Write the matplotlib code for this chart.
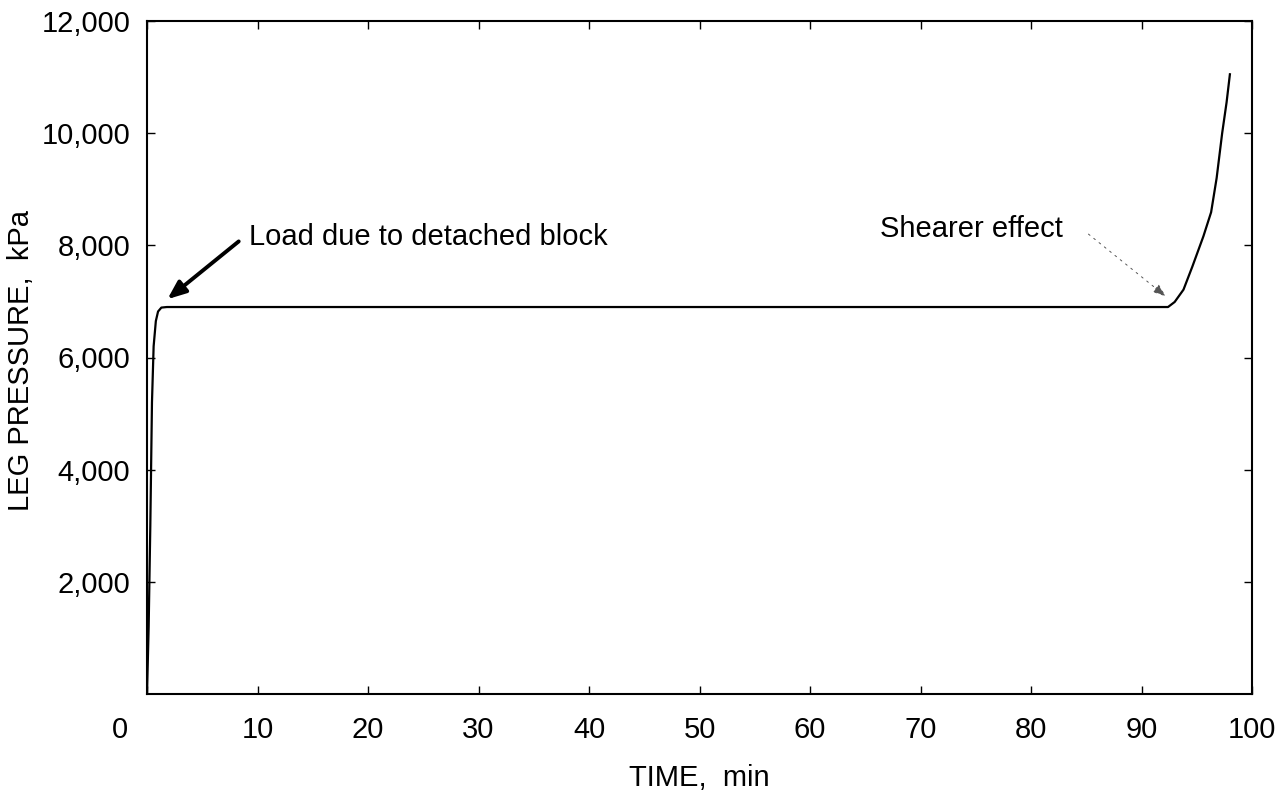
import numpy as np
import matplotlib
matplotlib.use("Agg")
import matplotlib.pyplot as plt
import matplotlib.transforms as mtransforms

plt.rcParams['font.family'] = ['Liberation Sans', 'DejaVu Sans']

# Leg pressure record
time_min = [0.0, 0.15, 0.3, 0.45, 0.6, 0.8, 1.0, 1.3, 1.8, 10, 30, 50, 70, 90, 92.4,
            93.0, 93.8, 94.6, 95.6, 96.3, 96.8, 97.3, 97.7, 98.0]
pressure_kpa = [0, 1200, 3000, 5200, 6200, 6650, 6820, 6890, 6900, 6900, 6900, 6900, 6900, 6900, 6900,
                6990, 7210, 7620, 8160, 8590, 9200, 10000, 10550, 11050]

x_ticks = [0, 10, 20, 30, 40, 50, 60, 70, 80, 90, 100]
y_ticks = [2000, 4000, 6000, 8000, 10000, 12000]

fig = plt.figure(figsize=(12.86, 7.91), dpi=100)
ax = fig.add_axes([147 / 1286, 1 - 694 / 791, (1252 - 147) / 1286, (694 - 21) / 791])

ax.plot(time_min, pressure_kpa, color='black', lw=1.6)

ax.set_xlim(0, 100)
ax.set_ylim(0, 12000)
ax.set_xticks(x_ticks)
ax.set_yticks(y_ticks)
ax.set_yticklabels(["{:,}".format(v) for v in y_ticks])
ax.tick_params(direction='in', length=6, width=1, top=True, right=True, labelsize=21)
ax.tick_params(axis='x', pad=16)
ax.tick_params(axis='y', pad=12)
for s in ax.spines.values():
    s.set_linewidth(1.5)

# the "0" on the time axis sits out at the corner
lbl0 = ax.get_xticklabels()[0]
lbl0.set_transform(lbl0.get_transform() + mtransforms.ScaledTranslation(-0.27, 0, fig.dpi_scale_trans))

ax.set_xlabel("TIME,  min", fontsize=21, labelpad=14)
ax.set_ylabel("LEG PRESSURE,  kPa", fontsize=21)
ax.yaxis.set_label_coords(-0.101, 0.495)

ax.text(9.2, 8150, "Load due to detached block", fontsize=21, va='center', ha='left')
ax.annotate("", xy=(1.85, 7040), xytext=(8.3, 8070),
            arrowprops=dict(arrowstyle='-|>,head_length=1.1,head_width=0.45', color='black',
                            lw=2.8, shrinkA=0, shrinkB=0))
ax.text(82.85, 8290, "Shearer effect", fontsize=21, va='center', ha='right')
ax.annotate("", xy=(92.2, 7090), xytext=(85.2, 8200),
            arrowprops=dict(arrowstyle='-|>,head_length=0.8,head_width=0.3', color='#555555',
                            lw=0.7, ls=(0, (2, 5)), shrinkA=0, shrinkB=0))

fig.savefig("out.png", dpi=100)
